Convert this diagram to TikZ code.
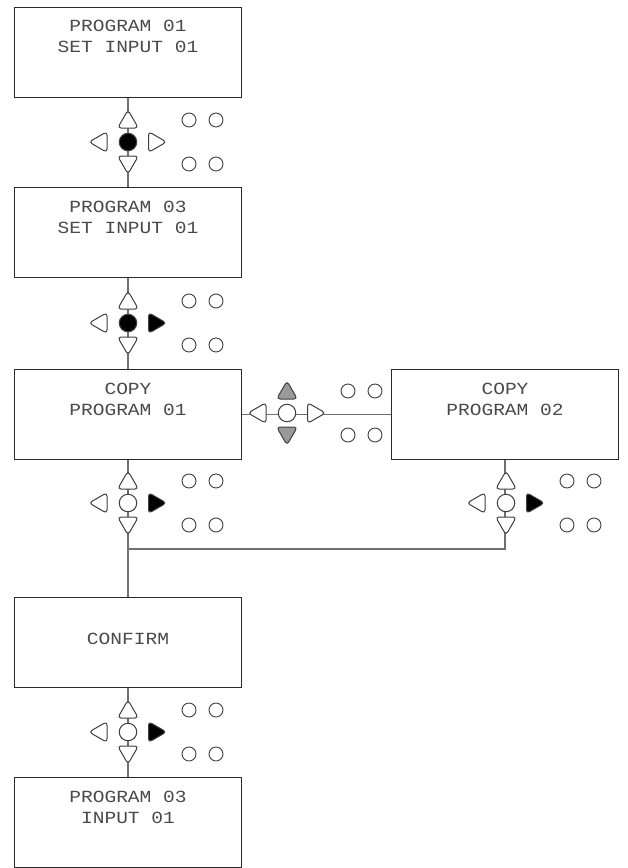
\documentclass[tikz,border=0pt]{standalone}
\usepackage{fontspec}
\newfontfamily\boxfont[FakeStretch=1.15]{Liberation Mono}
\usetikzlibrary{shapes.geometric}
\definecolor{linegray}{HTML}{707070}
\definecolor{boxgray}{HTML}{2A2A2A}
\definecolor{textgray}{HTML}{4A4A4A}
\definecolor{keygray}{HTML}{404040}
\definecolor{keyfill}{HTML}{999999}
\tikzset{
 box/.style={draw=boxgray, line width=1.1pt, minimum width=227pt, minimum height=90pt, inner sep=0pt, anchor=north west},
 lbl/.style={font=\boxfont\fontsize{17}{21}\selectfont, text=textgray, align=center, inner sep=0pt, anchor=north},
 conn/.style={draw=linegray, line width=1.3pt},
 key/.style={regular polygon, regular polygon sides=3, minimum size=24pt, inner sep=0pt, draw=keygray, line width=1pt, rounded corners=3.5pt},
 kup/.style={key},
 kdown/.style={key, shape border rotate=180},
 kleft/.style={key, shape border rotate=90},
 kright/.style={key, shape border rotate=-90},
 kmid/.style={circle, minimum size=17.5pt, inner sep=0pt, draw=keygray, line width=1pt},
 ksmall/.style={circle, minimum size=14pt, inner sep=0pt, draw=keygray, line width=0.9pt, fill=white}
}
% name, x, y, centre fill, right fill, up/down fill
\newcommand\kpad[6]{%
 \node[kup, fill=#6] (#1u) at (#2,#3-20) {};
 \node[kdown, fill=#6] (#1d) at (#2,#3+20) {};
 \node[kleft, fill=white] (#1l) at (#2-27,#3) {};
 \node[kright, fill=#5] (#1r) at (#2+26.5,#3) {};
 \node[kmid, fill=#4] (#1c) at (#2,#3) {};
 \node[ksmall] (#1a) at (#2+61,#3-22) {};
 \node[ksmall] (#1b) at (#2+88,#3-22) {};
 \node[ksmall] (#1e) at (#2+61,#3+22) {};
 \node[ksmall] (#1f) at (#2+88,#3+22) {};
}
\begin{document}
\begin{tikzpicture}[x=1pt,y=-1pt]
\useasboundingbox (0,0) rectangle (627,868);
% boxes
\node[box] (b1) at (14,7) {};
\node[box] (b2) at (14,187) {};
\node[box] (b3) at (14,369) {};
\node[box] (bR) at (391,369) {};
\node[box] (b4) at (14,597) {};
\node[box] (b5) at (14,777) {};
% labels
\node[lbl] (t1) at (128,19.5) {PROGRAM 01\\SET INPUT 01};
\node[lbl] (t2) at (128,200.5) {PROGRAM 03\\SET INPUT 01};
\node[lbl] (t3) at (128,382.5) {COPY\\PROGRAM 01};
\node[lbl] (tR) at (505,382.5) {COPY\\PROGRAM 02};
\node[lbl] (t4) at (128,632.5) {CONFIRM};
\node[lbl] (t5) at (128,790.5) {PROGRAM 03\\INPUT 01};
% connectors
\coordinate (j1) at (b3.south |- 0,549);
\coordinate (j2) at (bR.south |- 0,549);
\draw[conn] (b1.south) -- (b2.north);
\draw[conn] (b2.south) -- (b3.north);
\draw[conn] (b3.east) -- (bR.west);
\draw[conn] (b3.south) -- (j1) -- (j2) -- (bR.south);
\draw[conn] (j1) -- (b4.north);
\draw[conn] (b4.south) -- (b5.north);
% keypads
\kpad{k1}{128}{142}{black}{white}{white}
\kpad{k2}{128}{323}{black}{black}{white}
\kpad{kh}{287}{413}{white}{white}{keyfill}
\kpad{k3}{128}{503}{white}{black}{white}
\kpad{k4}{506}{503}{white}{black}{white}
\kpad{k5}{128}{732}{white}{black}{white}
\end{tikzpicture}
\end{document}
